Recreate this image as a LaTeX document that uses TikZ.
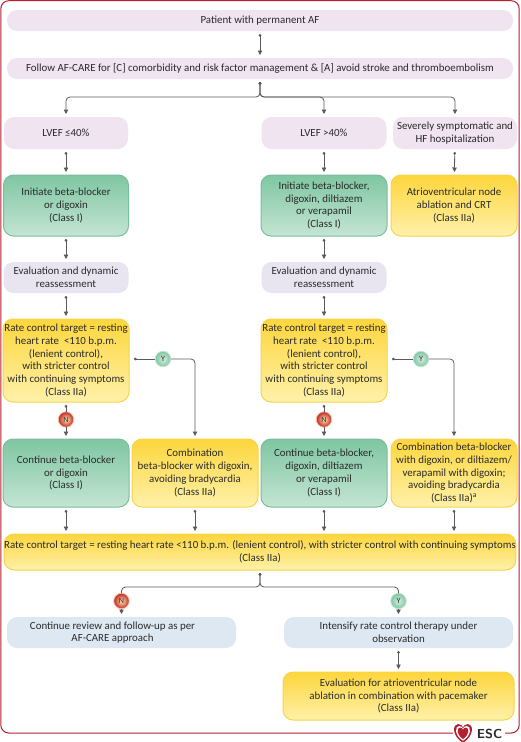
\documentclass[tikz,border=0pt]{standalone}
\usepackage{fontspec}
\setmainfont{Carlito}
\usepackage{tikz}
\usetikzlibrary{arrows.meta}

\definecolor{framered}{HTML}{B3202F}
\definecolor{txtdark}{HTML}{2A2A2A}
\definecolor{lineg}{HTML}{5A5A5A}
\definecolor{lilacfill}{RGB}{239,228,240}
\definecolor{evalfill}{RGB}{232,229,241}
\definecolor{bluefill}{RGB}{222,232,243}
\definecolor{greentop}{RGB}{127,198,162}
\definecolor{greenbot}{RGB}{196,229,211}
\definecolor{greenline}{RGB}{122,191,156}
\definecolor{yellowtop}{RGB}{253,214,60}
\definecolor{yellowbot}{RGB}{254,241,170}
\definecolor{yellowline}{RGB}{247,212,76}

\tikzset{
box/.style={rounded corners=10pt, inner sep=0pt, outer sep=3pt, align=center, text=txtdark, font=\fontsize{10.9}{12.75}\selectfont},
lilac/.style={box, fill=lilacfill},
evalbox/.style={box, fill=evalfill},
bluebox/.style={box, fill=bluefill},
greenbox/.style={box, draw=greenline, line width=1pt, top color=greentop, bottom color=greenbot},
yellowbox/.style={box, draw=yellowline, line width=1pt, top color=yellowtop, bottom color=yellowbot},
plain/.style={draw=lineg, line width=0.8pt},
dotline/.style={plain, {Circle[length=2.6pt]}-},
arrowline/.style={plain, -{Triangle[length=4.5pt,width=4.5pt]}},
flow/.style={plain, {Circle[length=2.6pt]}-{Triangle[length=4.5pt,width=4.5pt]}},
branch/.style={flow, rounded corners=4pt},
yes/.style={circle, minimum size=15.5pt, inner sep=0pt, outer sep=0pt, font=\fontsize{8}{8}\selectfont, text=txtdark, draw=greenbot, line width=0.8pt, inner color=greenbot!70!white, outer color=greentop},
no/.style={circle, minimum size=15.5pt, inner sep=0pt, outer sep=0pt, font=\fontsize{8}{8}\selectfont, text=txtdark, draw=red!60!yellow!40!white, line width=0.8pt, inner color=red!30!yellow!30!white, outer color=red!70!black!85!white},
}
\newcommand{\heartshape}{(0,10) .. controls (-12,2) and (-10,-9) .. (-5,-9) .. controls (-2.5,-9) and (0,-7) .. (0,-5.5) .. controls (0,-7) and (2.5,-9) .. (5,-9) .. controls (10,-9) and (12,2) .. (0,10) -- cycle}

\begin{document}
\begin{tikzpicture}[x=1pt,y=-1pt]
\useasboundingbox (0,0) rectangle (520,742);

% outer frame
\draw[framered, line width=1pt, rounded corners=8pt] (453,733) -- (0.8,733) -- (0.8,0.7) -- (519.2,0.7) -- (519.2,733) -- (505,733);

\node[lilac, minimum width=506pt, minimum height=21pt] (patient) at (260,20.5) {Patient with permanent AF};
\node[lilac, minimum width=506pt, minimum height=21pt] (care) at (260,68.5) {Follow AF-CARE for [C] comorbidity and risk factor management \& [A] avoid stroke and thromboembolism};

\node[lilac, minimum width=124pt, minimum height=32pt] (lvefa) at (66,133) {LVEF ≤40\%};
\node[lilac, minimum width=125pt, minimum height=32pt] (lvefb) at (324,133) {LVEF >40\%};
\node[lilac, minimum width=124pt, minimum height=32pt] (severe) at (455,133) {Severely symptomatic and\\HF hospitalization};

\node[greenbox, minimum width=125pt, minimum height=61pt] (inita) at (66,205.5) {Initiate beta-blocker\\or digoxin\\(Class I)};
\node[greenbox, minimum width=126pt, minimum height=61pt] (initb) at (324,205.5) {Initiate beta-blocker,\\digoxin, diltiazem\\or verapamil\\(Class I)};
\node[yellowbox, minimum width=126pt, minimum height=61pt] (avnode) at (454,205.5) {Atrioventricular node\\ablation and CRT\\(Class IIa)};

\node[evalbox, minimum width=125pt, minimum height=31pt] (evala) at (66,277.5) {Evaluation and dynamic\\reassessment};
\node[evalbox, minimum width=125pt, minimum height=31pt] (evalb) at (324,277.5) {Evaluation and dynamic\\reassessment};

\node[yellowbox, minimum width=126pt, minimum height=83pt] (ratea) at (66,360.5) {Rate control target = resting\\heart rate \ <110 b.p.m.\\(lenient control),\\with stricter control\\with continuing symptoms\\(Class IIa)};
\node[yellowbox, minimum width=126pt, minimum height=83pt] (rateb) at (324,360.5) {Rate control target = resting\\heart rate \ <110 b.p.m.\\(lenient control),\\with stricter control\\with continuing symptoms\\(Class IIa)};

\node[greenbox, minimum width=126pt, minimum height=68pt] (conta) at (66,473) {Continue beta-blocker\\or digoxin\\(Class I)};
\node[yellowbox, minimum width=126pt, minimum height=68pt] (comba) at (195,473) {Combination\\beta-blocker with digoxin,\\avoiding bradycardia\\(Class IIa)};
\node[greenbox, minimum width=126pt, minimum height=68pt] (contb) at (324,473) {Continue beta-blocker,\\digoxin, diltiazem\\or verapamil\\(Class I)};
\node[yellowbox, minimum width=126pt, minimum height=68pt] (combb) at (454,473) {Combination beta-blocker\\with digoxin, or diltiazem/\\verapamil with digoxin;\\avoiding bradycardia\\(Class IIa)\textsuperscript{a}};

\node[yellowbox, minimum width=508pt, minimum height=36pt] (ratewide) at (260,552) {Rate control target = resting heart rate <110 b.p.m. (lenient control), with stricter control with continuing symptoms\\(Class IIa)};

\node[bluebox, minimum width=229pt, minimum height=31pt] (review) at (121.5,632.5) {Continue review and follow-up as per\hspace*{18pt}\\AF-CARE approach\hspace*{18pt}};
\node[bluebox, minimum width=229pt, minimum height=31pt] (intensify) at (398.5,632.5) {Intensify rate control therapy under\\observation};
\node[yellowbox, minimum width=231pt, minimum height=48pt] (avpace) at (398.5,696) {Evaluation for atrioventricular node\\ablation in combination with pacemaker\\(Class IIa)};

\node[no] (na) at (66,419.5) {N};
\node[yes] (ya) at (163,359) {Y};
\node[no] (nb) at (324,419.5) {N};
\node[yes] (yb) at (421,359) {Y};
\node[no] (nc) at (121.5,601) {N};
\node[yes] (yc) at (398.5,601) {Y};

\draw[flow] (patient) -- (care);
\draw[branch] (care.south) -- ++(0,15) -| (lvefa.north);
\draw[branch] (care.south) -- ++(0,15) -| (lvefb.north);
\draw[branch] (care.south) -- ++(0,15) -| (severe.north);

\draw[flow] (lvefa) -- (inita);
\draw[flow] (lvefb) -- (initb);
\draw[flow] (severe) -- (avnode);
\draw[flow] (inita) -- (evala);
\draw[flow] (initb) -- (evalb);
\draw[flow] (evala) -- (ratea);
\draw[flow] (evalb) -- (rateb);

\draw[dotline] (ratea) -- (na);
\draw[arrowline] (na) -- (conta);
\draw[dotline] (rateb) -- (nb);
\draw[arrowline] (nb) -- (contb);
\draw[dotline, shorten <=2pt] (ratea.east |- ya) -- (ya);
\draw[dotline, shorten <=2pt] (rateb.east |- yb) -- (yb);
\draw[arrowline, rounded corners=4pt] (ya) -| (comba.north);
\draw[arrowline, rounded corners=4pt] (yb) -| (combb.north);

\draw[flow] (conta) -- (conta |- ratewide.north);
\draw[flow] (comba) -- (comba |- ratewide.north);
\draw[flow] (contb) -- (contb |- ratewide.north);
\draw[flow] (combb) -- (combb |- ratewide.north);

\draw[dotline, rounded corners=4pt] (ratewide.south) -- ++(0,14) -| (nc);
\draw[dotline, rounded corners=4pt] (ratewide.south) -- ++(0,14) -| (yc);
\draw[arrowline] (nc) -- (review);
\draw[arrowline] (yc) -- (intensify);
\draw[flow] (intensify) -- (avpace);

% ESC logo
\begin{scope}[shift={(463,733)}]
\fill[framered] \heartshape;
\fill[white, scale=0.78] \heartshape;
\fill[framered, scale=0.6] \heartshape;
\end{scope}
\node[font=\sffamily\bfseries\fontsize{13}{13}\selectfont, text=txtdark, inner sep=0pt] (esc) at (489.5,733.5) {ESC};
\end{tikzpicture}
\end{document}
